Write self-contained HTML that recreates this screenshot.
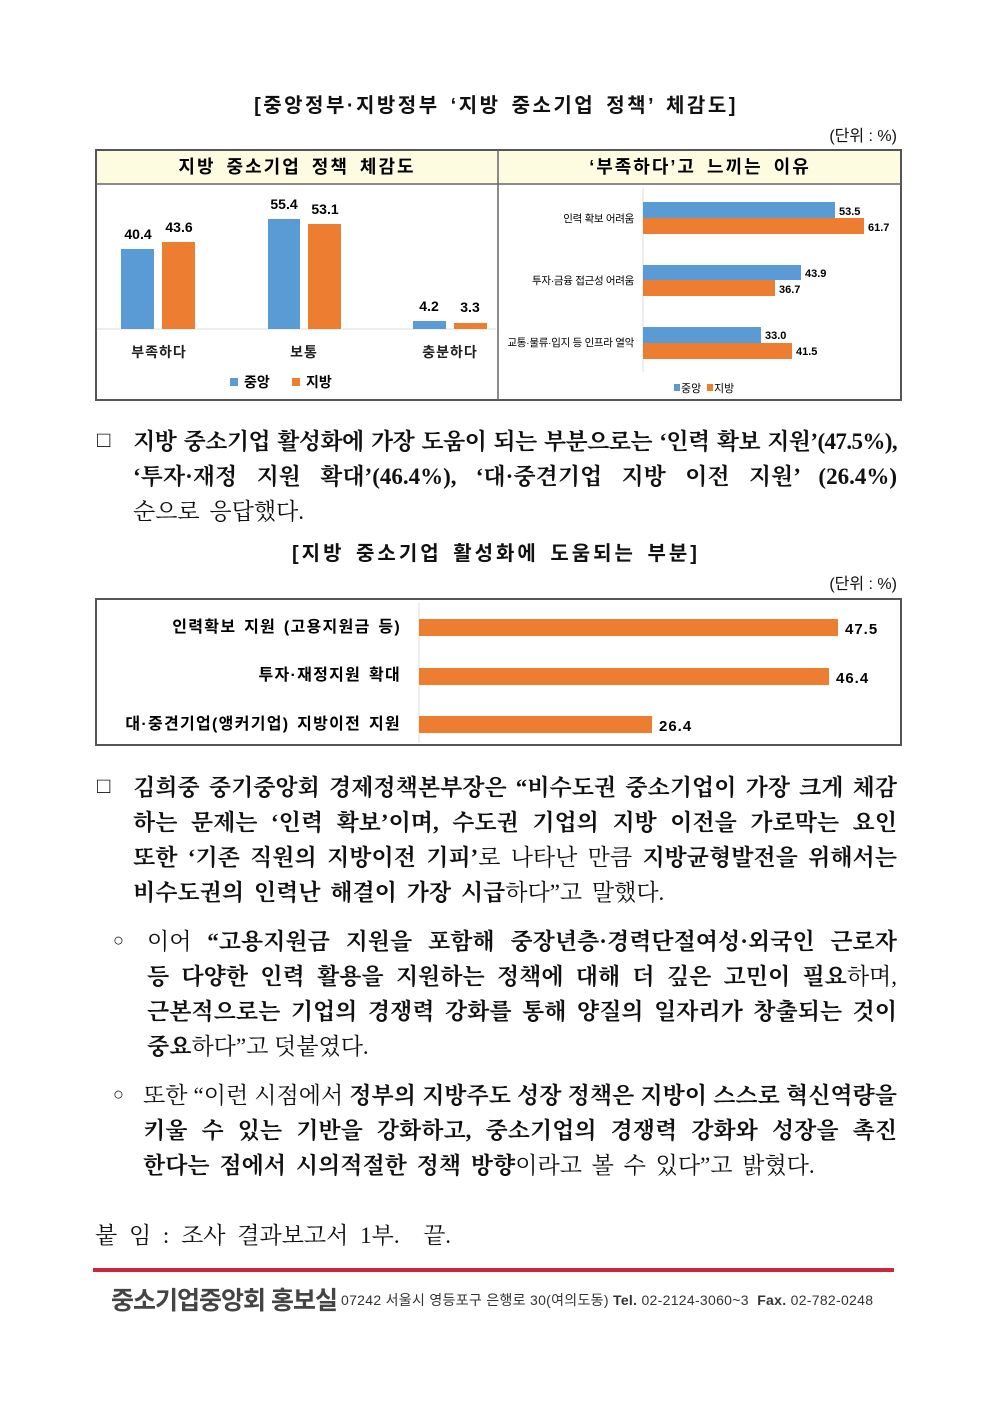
<!DOCTYPE html>
<html><head><meta charset="utf-8">
<style>
*{margin:0;padding:0;box-sizing:border-box}
body{width:992px;height:1403px;background:#fff;position:relative;font-family:"Liberation Sans","Noto Sans CJK KR",sans-serif;color:#111;overflow:hidden}
.a{position:absolute;white-space:nowrap}
.ln{position:absolute;font-family:"Liberation Serif","Noto Serif CJK KR",serif;font-size:23px;text-align:justify;text-align-last:justify;white-space:nowrap;line-height:30px}
.ln.l{text-align-last:left}
.b{font-weight:bold}
</style></head><body>
<div class="a b" style="left:0;width:992px;text-align:center;top:89px;font-size:20px;letter-spacing:2.5px;word-spacing:3px">[중앙정부·지방정부 ‘지방 중소기업 정책’ 체감도]</div>
<div class="a" style="right:95px;top:122px;font-size:16px">(단위 : %)</div>

<svg class="a" style="left:0;top:0" width="992" height="760">
<rect x="96" y="150" width="805" height="250" fill="#fff" stroke="#555" stroke-width="2"/>
<rect x="97" y="151" width="803" height="33" fill="#fdfbe0"/>
<line x1="96" y1="184" x2="901" y2="184" stroke="#666" stroke-width="1.5"/>
<line x1="498" y1="150" x2="498" y2="400" stroke="#666" stroke-width="1.5"/>
<g font-family="Liberation Sans,Noto Sans CJK KR,sans-serif" font-weight="bold" text-anchor="middle" letter-spacing="2" word-spacing="4">
<text x="297" y="173" font-size="18">지방 중소기업 정책 체감도</text>
<text x="700" y="173" font-size="18">‘부족하다’고 느끼는 이유</text>
</g>
<line x1="97" y1="329" x2="496" y2="329" stroke="#ddd"/>
<rect x="121" y="249" width="33" height="80" fill="#5b9bd5"/>
<rect x="162" y="242" width="33" height="87" fill="#ed7d31"/>
<rect x="268" y="219" width="32" height="110" fill="#5b9bd5"/>
<rect x="308" y="224" width="33" height="105" fill="#ed7d31"/>
<rect x="413" y="321" width="33" height="8" fill="#5b9bd5"/>
<rect x="454" y="323" width="33" height="6" fill="#ed7d31"/>
<g font-family="Liberation Sans,Noto Sans CJK KR,sans-serif" font-weight="bold" font-size="14" text-anchor="middle">
<text x="138" y="239">40.4</text><text x="179" y="232">43.6</text>
<text x="284" y="209">55.4</text><text x="325" y="214">53.1</text>
<text x="429" y="311">4.2</text><text x="470" y="312">3.3</text>
</g>
<g font-family="Liberation Sans,Noto Sans CJK KR,sans-serif" font-size="14" font-weight="bold" text-anchor="middle" fill="#222" letter-spacing="1">
<text x="159" y="357">부족하다</text><text x="304" y="357">보통</text><text x="450" y="357">충분하다</text>
</g>
<rect x="230" y="378" width="8" height="8" fill="#5b9bd5"/><text x="244" y="387" font-size="14" font-weight="bold" font-family="Liberation Sans,Noto Sans CJK KR,sans-serif">중앙</text>
<rect x="292" y="378" width="8" height="8" fill="#ed7d31"/><text x="306" y="387" font-size="14" font-weight="bold" font-family="Liberation Sans,Noto Sans CJK KR,sans-serif">지방</text>

<line x1="643" y1="188" x2="643" y2="372" stroke="#ddd"/>
<rect x="643" y="202" width="192" height="16" fill="#5b9bd5"/>
<rect x="643" y="218" width="221" height="16" fill="#ed7d31"/>
<rect x="643" y="265" width="158" height="15" fill="#5b9bd5"/>
<rect x="643" y="280" width="132" height="16" fill="#ed7d31"/>
<rect x="643" y="327" width="118" height="16" fill="#5b9bd5"/>
<rect x="643" y="343" width="149" height="16" fill="#ed7d31"/>
<g font-family="Liberation Sans,Noto Sans CJK KR,sans-serif" font-size="11" font-weight="bold">
<text x="839" y="215">53.5</text><text x="868" y="231">61.7</text>
<text x="805" y="277">43.9</text><text x="779" y="293">36.7</text>
<text x="765" y="339">33.0</text><text x="796" y="355">41.5</text>
</g>
<g font-family="Liberation Sans,Noto Sans CJK KR,sans-serif" font-size="10.5" text-anchor="end" letter-spacing="-0.3">
<text x="634" y="222">인력 확보 어려움</text>
<text x="634" y="284">투자·금융 접근성 어려움</text>
<text x="634" y="346">교통·물류·입지 등 인프라 열악</text>
</g>
<rect x="674" y="384" width="6" height="7" fill="#5b9bd5"/><text x="681" y="392" font-size="11" font-family="Liberation Sans,Noto Sans CJK KR,sans-serif">중앙</text>
<rect x="707" y="384" width="6" height="7" fill="#ed7d31"/><text x="714" y="392" font-size="11" font-family="Liberation Sans,Noto Sans CJK KR,sans-serif">지방</text>

<rect x="96" y="599" width="805" height="146" fill="#fff" stroke="#555" stroke-width="2"/>
<line x1="419" y1="603" x2="419" y2="743" stroke="#ddd"/>
<rect x="419" y="619" width="419" height="17" fill="#ed7d31"/>
<rect x="419" y="668" width="410" height="17" fill="#ed7d31"/>
<rect x="419" y="716" width="233" height="17" fill="#ed7d31"/>
<g font-family="Liberation Sans,Noto Sans CJK KR,sans-serif" font-weight="bold" font-size="15" letter-spacing="1">
<text x="845" y="634">47.5</text><text x="836" y="683">46.4</text><text x="659" y="731">26.4</text>
</g>
<g font-family="Liberation Sans,Noto Sans CJK KR,sans-serif" font-weight="bold" font-size="16" text-anchor="end" letter-spacing="1.3" word-spacing="2">
<text x="401" y="632">인력확보 지원 (고용지원금 등)</text>
<text x="401" y="680">투자·재정지원 확대</text>
<text x="401" y="729">대·중견기업(앵커기업) 지방이전 지원</text>
</g>
</svg>

<div class="a" style="left:97px;top:427px;font-size:22px">□</div>
<div class="ln b" style="left:133px;width:764px;top:427px;letter-spacing:-0.6px;word-spacing:-2px">지방 중소기업 활성화에 가장 도움이 되는 부분으로는 ‘인력 확보 지원’(47.5%),</div>
<div class="ln b" style="left:133px;width:764px;top:462px">‘투자·재정 지원 확대’(46.4%), ‘대·중견기업 지방 이전 지원’ (26.4%)</div>
<div class="ln l" style="left:133px;width:764px;top:497px;word-spacing:4px">순으로 응답했다.</div>

<div class="a b" style="left:0;width:992px;text-align:center;top:537px;font-size:20px;letter-spacing:3px;word-spacing:3px">[지방 중소기업 활성화에 도움되는 부분]</div>
<div class="a" style="right:95px;top:570px;font-size:16px">(단위 : %)</div>

<div class="a" style="left:97px;top:773px;font-size:22px">□</div>
<div class="ln" style="left:133px;width:764px;top:773px"><span class="b">김희중 중기중앙회 경제정책본부장은 “비수도권 중소기업이 가장 크게 체감</span></div>
<div class="ln" style="left:133px;width:764px;top:808px"><span class="b">하는 문제는 ‘인력 확보’이며, 수도권 기업의 지방 이전을 가로막는 요인</span></div>
<div class="ln" style="left:133px;width:764px;top:843px"><span class="b">또한 ‘기존 직원의 지방이전 기피’</span>로 나타난 만큼 <span class="b">지방균형발전을 위해서는</span></div>
<div class="ln l" style="left:133px;width:764px;top:878px;word-spacing:4px"><span class="b">비수도권의 인력난 해결이 가장 시급</span>하다”고 말했다.</div>

<div class="a" style="left:113px;top:930px;font-size:18px">○</div>
<div class="ln" style="left:147px;width:750px;top:927px">이어 <span class="b">“고용지원금 지원을 포함해 중장년층·경력단절여성·외국인 근로자</span></div>
<div class="ln" style="left:147px;width:750px;top:962px"><span class="b">등 다양한 인력 활용을 지원하는 정책에 대해 더 깊은 고민이 필요</span>하며,</div>
<div class="ln" style="left:147px;width:750px;top:997px"><span class="b">근본적으로는 기업의 경쟁력 강화를 통해 양질의 일자리가 창출되는 것이</span></div>
<div class="ln l" style="left:147px;width:750px;top:1032px"><span class="b">중요</span>하다”고 덧붙였다.</div>

<div class="a" style="left:113px;top:1084px;font-size:18px">○</div>
<div class="ln" style="left:143px;width:754px;top:1081px">또한 “이런 시점에서 <span class="b">정부의 지방주도 성장 정책은 지방이 스스로 혁신역량을</span></div>
<div class="ln" style="left:143px;width:754px;top:1116px"><span class="b">키울 수 있는 기반을 강화하고, 중소기업의 경쟁력 강화와 성장을 촉진</span></div>
<div class="ln l" style="left:143px;width:754px;top:1151px;word-spacing:4px"><span class="b">한다는 점에서 시의적절한 정책 방향</span>이라고 볼 수 있다”고 밝혔다.</div>

<div class="ln l" style="left:95px;width:500px;top:1221px;word-spacing:6px">붙 임 : 조사 결과보고서 1부.&nbsp; 끝.</div>

<div class="a" style="left:93px;top:1268px;width:801px;height:4px;background:#c8283a"></div>
<div class="a" style="left:111px;top:1281px;font-size:25px;font-weight:bold;color:#444;letter-spacing:-1px">중소기업중앙회 홍보실</div>
<div class="a" style="left:341px;top:1290px;font-size:14px;color:#333;letter-spacing:0.3px">07242 서울시 영등포구 은행로 30(여의도동) <b>Tel.</b> 02-2124-3060~3 &nbsp;<b>Fax.</b> 02-782-0248</div>
</body></html>
